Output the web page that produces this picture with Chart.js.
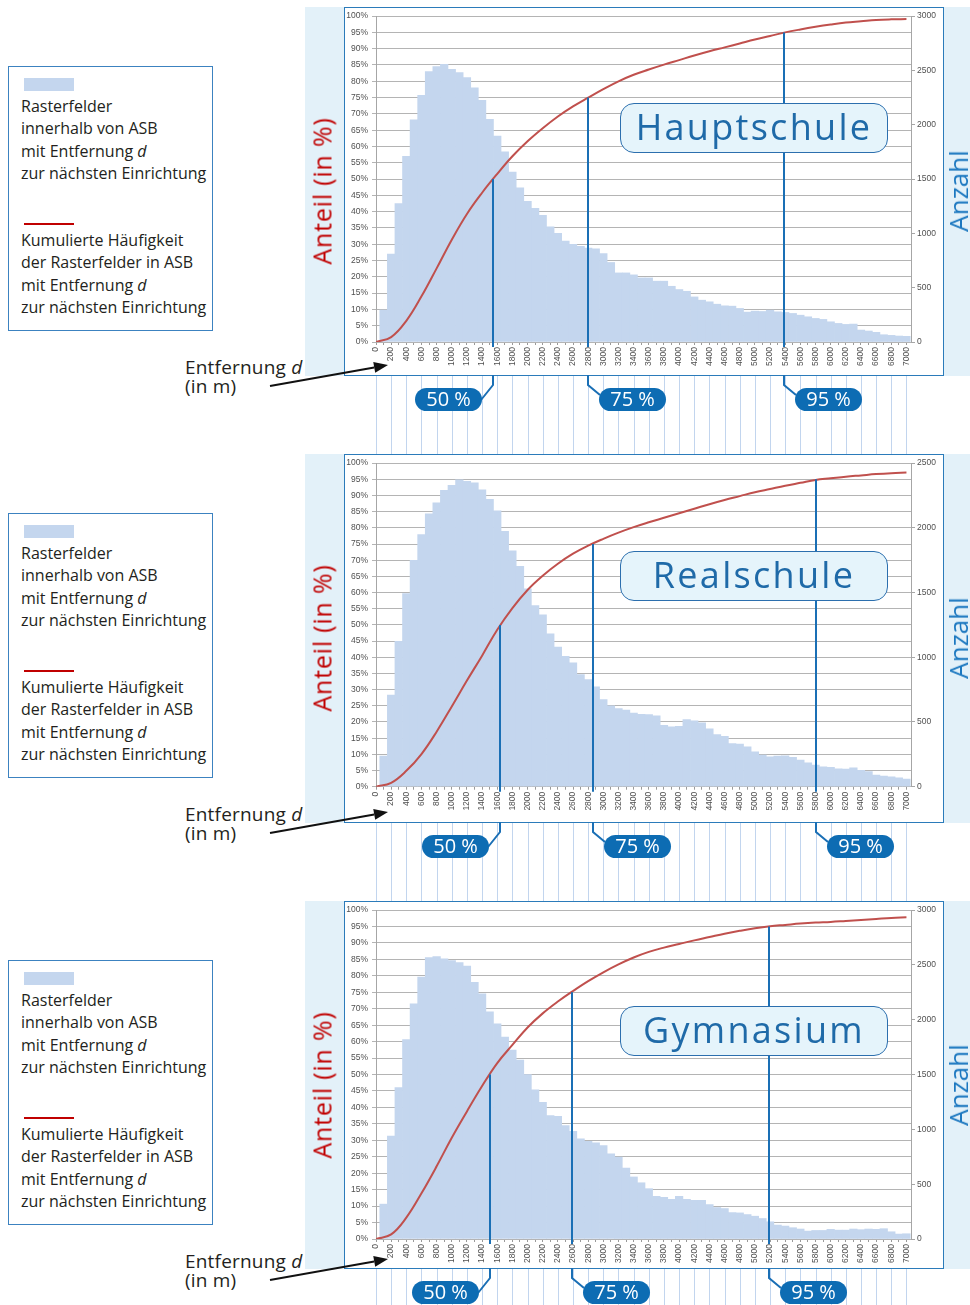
<!DOCTYPE html>
<html lang="de">
<head>
<meta charset="utf-8">
<title>Entfernung zur nächsten Einrichtung</title>
<script src="https://cdn.jsdelivr.net/npm/chart.js@4.4.1/dist/chart.umd.min.js"></script>
<style>
  body { margin: 0; }
  #page { position: relative; width: 970px; height: 1305px; overflow: hidden; background: #fff; font-family: 'Open Sans', sans-serif; color: #231f20; }
  .band { position: absolute; left: 305px; width: 665px; background: #e3f1f9; }
  .frame { position: absolute; left: 344px; width: 600px; background: #fff; border: 1.5px solid #2b7bba; box-sizing: border-box; }
  .plot { position: absolute; left: 305px; z-index: 1; }
  .legend { position: absolute; left: 8px; width: 205px; height: 265px; border: 1px solid #3c82c0; box-sizing: border-box; z-index: 2; }
  .legend .swatch { position: absolute; left: 15px; top: 11px; width: 50px; height: 13px; background: #c4d6ee; }
  .legend .redline { position: absolute; left: 15px; top: 156px; width: 50px; height: 2px; background: #c00000; }
  .legend p { position: absolute; left: 12px; margin: 0; font-size: 16px; line-height: 22.5px; white-space: nowrap; }
  .dist { position: absolute; left: 185px; font-size: 19px; line-height: 19px; letter-spacing: 0.2px; z-index: 2; }
  .vtitle { position: absolute; transform: translate(-50%, -50%) rotate(-90deg); white-space: nowrap; line-height: 1; z-index: 2; }
  .anteil { color: #c00000; font-size: 25px; letter-spacing: 0.8px; }
  .anzahl { color: #1c78c0; font-size: 26px; }
  .school { position: absolute; left: 620px; width: 268px; height: 50px; box-sizing: border-box; border: 1.5px solid #2c6fae; border-radius: 14px; background: #e5f4fb; color: #1f6aa8; font-size: 36px; letter-spacing: 2.3px; line-height: 46px; text-align: center; z-index: 2; }
  svg { position: absolute; left: 0; top: 0; z-index: 3; }
</style>
</head>
<body>
<div id="page"></div>
<script>
// Entfernung (m) – Mitte der 100-m-Klassen
const barDistances = [100, 200, 300, 400, 500, 600, 700, 800, 900, 1000,
  1100, 1200, 1300, 1400, 1500, 1600, 1700, 1800, 1900, 2000,
  2100, 2200, 2300, 2400, 2500, 2600, 2700, 2800, 2900, 3000,
  3100, 3200, 3300, 3400, 3500, 3600, 3700, 3800, 3900, 4000,
  4100, 4200, 4300, 4400, 4500, 4600, 4700, 4800, 4900, 5000,
  5100, 5200, 5300, 5400, 5500, 5600, 5700, 5800, 5900, 6000,
  6100, 6200, 6300, 6400, 6500, 6600, 6700, 6800, 6900, 7000]

// Stützstellen der kumulierten Kurve
const curveDistances = [0, 200, 400, 600, 800, 1000, 1200, 1400, 1600, 1800,
  2000, 2200, 2400, 2600, 2800, 3000, 3200, 3400, 3600, 3800,
  4000, 4200, 4400, 4600, 4800, 5000, 5200, 5400, 5600, 5800,
  6000, 6200, 6400, 6600, 6800, 7000]

const hauptschuleCounts = [294, 810, 1275, 1710, 2045, 2270, 2490, 2535, 2555, 2510,
  2480, 2435, 2340, 2225, 2050, 1895, 1750, 1565, 1420, 1295,
  1230, 1165, 1060, 1000, 930, 900, 880, 865, 858, 813,
  732, 636, 636, 618, 590, 590, 560, 560, 513, 483,
  467, 415, 385, 370, 348, 333, 330, 309, 275, 284,
  281, 293, 278, 272, 263, 247, 232, 217, 208, 186,
  171, 162, 165, 110, 101, 89, 67, 61, 55, 52]
const hauptschuleCumulative = [0, 1.5, 6.5, 14.0, 22.6, 31.4, 39.3, 45.8, 51.6, 57.0,
  61.6, 65.6, 69.2, 72.3, 75.0, 77.6, 80.0, 82.0, 83.6, 85.1,
  86.5, 87.9, 89.2, 90.4, 91.6, 92.8, 93.9, 95.0, 95.9, 96.7,
  97.4, 98.0, 98.4, 98.8, 99.0, 99.1]
const hauptschulePercentiles = [1550, 2800, 5380]

const realschuleCounts = [237, 707, 1124, 1492, 1749, 1947, 2109, 2194, 2289, 2328,
  2371, 2359, 2348, 2294, 2220, 2132, 1973, 1823, 1703, 1528,
  1399, 1327, 1181, 1078, 1008, 957, 867, 828, 772, 674,
  625, 604, 591, 568, 560, 557, 547, 475, 462, 467,
  519, 508, 493, 447, 403, 390, 334, 329, 308, 270,
  244, 231, 236, 239, 226, 205, 185, 167, 154, 149,
  139, 136, 146, 126, 116, 90, 82, 77, 69, 59]
const realschuleCumulative = [0, 1.2, 4.9, 10.1, 17.0, 24.8, 32.8, 40.5, 48.5, 55.2,
  60.8, 65.2, 68.9, 72.0, 74.5, 76.6, 78.5, 80.2, 81.7, 83.1,
  84.5, 85.9, 87.3, 88.6, 89.8, 91.0, 92.0, 93.0, 93.9, 94.8,
  95.3, 95.8, 96.2, 96.6, 96.9, 97.1]
const realschulePercentiles = [1640, 2860, 5800]

const gymnasiumCounts = [318, 938, 1382, 1820, 2144, 2389, 2567, 2577, 2555, 2540,
  2522, 2489, 2341, 2237, 2072, 1962, 1842, 1724, 1633, 1500,
  1361, 1246, 1125, 1119, 1034, 983, 913, 892, 877, 853,
  777, 747, 647, 566, 513, 459, 389, 380, 362, 389,
  362, 353, 353, 314, 287, 278, 241, 238, 223, 208,
  187, 157, 127, 118, 103, 91, 72, 78, 78, 88,
  81, 81, 91, 85, 91, 88, 94, 66, 45, 48]
const gymnasiumCumulative = [0, 1.4, 6.5, 13.9, 22.1, 30.8, 38.8, 46.5, 53.5, 59.0,
  64.3, 68.6, 72.2, 75.4, 78.4, 81.1, 83.5, 85.6, 87.3, 88.6,
  89.7, 90.8, 91.8, 92.8, 93.7, 94.5, 95.1, 95.5, 95.9, 96.2,
  96.4, 96.7, 97.0, 97.3, 97.6, 97.8]
const gymnasiumPercentiles = [1500, 2580, 5180]

const percentileLevels = [50, 75, 95]
const percentileLabels = ['50 %', '75 %', '95 %']

const panels = [
  { name: 'Hauptschule', counts: hauptschuleCounts, cumulative: hauptschuleCumulative, percentiles: hauptschulePercentiles, countMax: 3000,
    frameTop: 7, frameBottom: 375, plotTop: 14.7, plotBottom: 342, canvasHeight: 447, legendTop: 66, titleTop: 103 },
  { name: 'Realschule', counts: realschuleCounts, cumulative: realschuleCumulative, percentiles: realschulePercentiles, countMax: 2500,
    frameTop: 454, frameBottom: 822, plotTop: 462.7, plotBottom: 786.7, canvasHeight: 447, legendTop: 513, titleTop: 551 },
  { name: 'Gymnasium', counts: gymnasiumCounts, cumulative: gymnasiumCumulative, percentiles: gymnasiumPercentiles, countMax: 3000,
    frameTop: 901, frameBottom: 1268, plotTop: 908.3, plotBottom: 1239, canvasHeight: 404, legendTop: 960, titleTop: 1006 }
]

const tickFont = { family: 'Liberation Sans', size: 8.5 }
const tickColor = '#505050'

const roundRect = (ctx, x, y, w, h, r) => {
  ctx.beginPath()
  ctx.moveTo(x + r, y)
  ctx.arcTo(x + w, y, x + w, y + h, r)
  ctx.arcTo(x + w, y + h, x, y + h, r)
  ctx.arcTo(x, y + h, x, y, r)
  ctx.arcTo(x, y, x + w, y, r)
  ctx.closePath()
}

// Hilfslinien unterhalb des Rahmens, Perzentil-Linien und Marken
const percentilePlugin = {
  id: 'percentiles',
  afterDraw(chart, args, opts) {
    const { ctx, chartArea } = chart
    const x = chart.scales.x
    const yL = chart.scales.yL
    const fb = opts.frameBottom
    ctx.save()
    ctx.strokeStyle = '#c2d5ee'
    ctx.lineWidth = 1
    x.ticks.forEach(t => {
      if (t.value % 200 !== 0) return
      const px = Math.round(x.getPixelForValue(t.value)) + 0.5
      ctx.beginPath()
      ctx.moveTo(px, fb + 1)
      ctx.lineTo(px, chart.height)
      ctx.stroke()
    })
    opts.distances.forEach((d, i) => {
      const px = Math.round(x.getPixelForValue(d))
      const side = i === 0 ? -1 : 1
      ctx.strokeStyle = '#1a6fb5'
      ctx.lineWidth = 2
      ctx.beginPath()
      ctx.moveTo(px, yL.getPixelForValue(percentileLevels[i]))
      ctx.lineTo(px, chartArea.bottom + 5)
      ctx.moveTo(px, fb)
      ctx.lineTo(px, fb + 10)
      ctx.lineTo(px + side * 12, fb + (side < 0 ? 25 : 20))
      ctx.stroke()
      const bx = side < 0 ? px - 78 : px + 11
      roundRect(ctx, bx, fb + 13, 67, 23, 11.5)
      ctx.fillStyle = '#0d6cb3'
      ctx.fill()
      ctx.fillStyle = '#fff'
      ctx.font = '20px "Open Sans"'
      ctx.textAlign = 'center'
      ctx.textBaseline = 'middle'
      ctx.fillText(percentileLabels[i], bx + 33.5, fb + 25)
    })
    ctx.restore()
  }
}

const page = document.getElementById('page')
const svgNS = 'http://www.w3.org/2000/svg'
const svg = document.createElementNS(svgNS, 'svg')
svg.setAttribute('width', 970)
svg.setAttribute('height', 1305)

const addDiv = (cls, style, html) => {
  const el = document.createElement('div')
  el.className = cls
  Object.assign(el.style, style)
  if (html) el.innerHTML = html
  page.appendChild(el)
  return el
}

const addArrow = (x1, y1, x2, y2) => {
  const len = Math.hypot(x2 - x1, y2 - y1)
  const ux = (x2 - x1) / len, uy = (y2 - y1) / len
  const bx = x2 - ux * 14, by = y2 - uy * 14
  const line = document.createElementNS(svgNS, 'line')
  line.setAttribute('x1', x1); line.setAttribute('y1', y1)
  line.setAttribute('x2', bx); line.setAttribute('y2', by)
  line.setAttribute('stroke', '#111'); line.setAttribute('stroke-width', 2)
  svg.appendChild(line)
  const head = document.createElementNS(svgNS, 'polygon')
  head.setAttribute('points', [
    [x2, y2], [bx - uy * 5.5, by + ux * 5.5], [bx + uy * 5.5, by - ux * 5.5]
  ].map(p => p.join(',')).join(' '))
  head.setAttribute('fill', '#111')
  svg.appendChild(head)
}

const renderPanel = (p, i) => {
  const dy = i * 447
  const frameH = p.frameBottom - p.frameTop + 1
  addDiv('band', { top: p.frameTop + 'px', height: frameH + 'px' })
  addDiv('frame', { top: p.frameTop + 'px', height: frameH + 'px' })

  const canvas = document.createElement('canvas')
  canvas.className = 'plot'
  canvas.width = 665
  canvas.height = p.canvasHeight
  canvas.style.top = p.frameTop + 'px'
  page.appendChild(canvas)

  addDiv('legend', { top: p.legendTop + 'px' },
    '<div class="swatch"></div>' +
    '<p style="top:27.75px">Rasterfelder<br>innerhalb von ASB<br>mit Entfernung <i>d</i><br>zur nächsten Einrichtung</p>' +
    '<div class="redline"></div>' +
    '<p style="top:161.75px">Kumulierte Häufigkeit<br>der Rasterfelder in ASB<br>mit Entfernung <i>d</i><br>zur nächsten Einrichtung</p>')
  addDiv('dist', { top: (357.5 + dy) + 'px' }, 'Entfernung <i>d</i><br>(in m)')
  addDiv('vtitle anteil', { left: '322px', top: (191 + dy) + 'px' }, 'Anteil (in %)')
  addDiv('vtitle anzahl', { left: '957.5px', top: (191 + dy) + 'px' }, 'Anzahl')
  addDiv('school', { top: p.titleTop + 'px' }, p.name)
  addArrow(270, 386 + dy, 388, 365 + dy)

  const plotTop = p.plotTop - p.frameTop
  const plotBottom = p.plotBottom - p.frameTop
  const xHeight = p.canvasHeight - plotBottom

  const data = {
    datasets: [{
      type: 'line',
      data: curveDistances.map((d, k) => ({ x: d, y: p.cumulative[k] })),
      yAxisID: 'yL',
      borderColor: '#c0504d',
      borderWidth: 2,
      pointRadius: 0,
      tension: 0.4,
      order: 0
    }, {
      type: 'bar',
      data: barDistances.map((d, k) => ({ x: d, y: p.counts[k] })),
      yAxisID: 'yR',
      backgroundColor: '#c4d6ee',
      borderWidth: 0,
      barPercentage: 1,
      categoryPercentage: 1,
      order: 1
    }]
  }

  const options = {
    responsive: false,
    animation: false,
    layout: { padding: { top: plotTop, left: 0, right: 0, bottom: 0 } },
    plugins: {
      legend: { display: false },
      tooltip: { enabled: false },
      percentiles: { distances: p.percentiles, frameBottom: p.frameBottom - p.frameTop }
    },
    scales: {
      x: {
        type: 'linear',
        min: 0,
        max: 7060,
        offset: false,
        grid: { offset: false, drawOnChartArea: false, tickLength: 3, color: '#9a9a9a' },
        border: { display: false },
        ticks: {
          stepSize: 100,
          maxTicksLimit: 200,
          includeBounds: false,
          autoSkip: false,
          maxRotation: 90,
          minRotation: 90,
          padding: 2,
          font: tickFont,
          color: tickColor,
          callback: v => v % 200 === 0 ? String(v) : ''
        },
        afterFit: s => { s.height = xHeight }
      },
      yL: {
        position: 'left',
        min: 0,
        max: 100,
        grid: { color: '#b4b4b4', tickLength: 4 },
        border: { color: '#a6a6a6' },
        ticks: { stepSize: 5, padding: 4, font: tickFont, color: tickColor, callback: v => v + '%' },
        afterFit: s => { s.width = 71 }
      },
      yR: {
        position: 'right',
        min: 0,
        max: p.countMax,
        grid: { drawOnChartArea: false, tickLength: 4, color: '#a6a6a6' },
        border: { color: '#a6a6a6' },
        ticks: { stepSize: 500, padding: 2, font: tickFont, color: tickColor, callback: v => String(v) },
        afterFit: s => { s.width = 59 }
      }
    }
  }

  new Chart(canvas, { type: 'bar', data, options, plugins: [percentilePlugin] })
}

panels.forEach(renderPanel)
page.appendChild(svg)
</script>
</body>
</html>
